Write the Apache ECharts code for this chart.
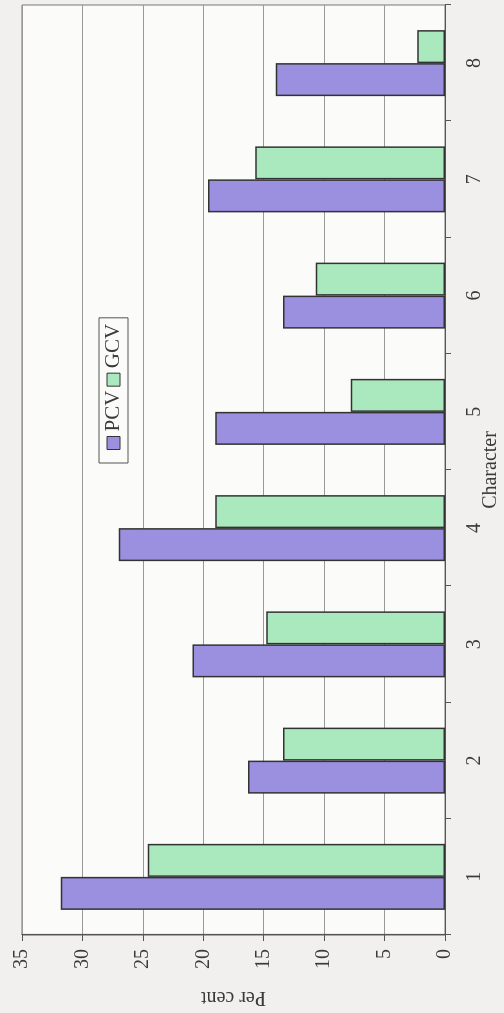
<!DOCTYPE html>
<html>
<head>
<meta charset="utf-8">
<script src="https://cdn.jsdelivr.net/npm/echarts@6/dist/echarts.min.js"></script>
<style>
  html, body { margin: 0; padding: 0; background: #f1f0ee; overflow: hidden; }
  #page { position: relative; width: 504px; height: 1013px; }
  /* chart drawn landscape, then turned a quarter turn anticlockwise like the scan */
  #chart {
    position: absolute; left: 0; top: 0;
    width: 1013px; height: 504px;
    transform-origin: 0 0;
    transform: translate(0, 1013px) rotate(-90deg);
  }
</style>
</head>
<body>
<div id="page"><div id="chart"></div></div>
<script>
const characters = ["1", "2", "3", "4", "5", "6", "7", "8"]
const pcv = [31.8, 16.3, 20.9, 27.0, 19.0, 13.4, 19.6, 14.0]
const gcv = [24.6, 13.4, 14.8, 19.0, 7.8, 10.7, 15.7, 2.3]
const valueTicks = { min: 0, max: 35, interval: 5 }

const font = "Liberation Serif"
const ink = "#3a3a3a"

const chart = echarts.init(document.getElementById("chart"))

chart.setOption({
  backgroundColor: "#f1f0ee",
  animation: false,
  textStyle: { fontFamily: font, color: ink },
  grid: {
    left: 78, right: 5, top: 22, bottom: 59,
    outerBoundsMode: "none",
    show: true,
    backgroundColor: "#fbfbfa",
    borderColor: "#777",
    borderWidth: 1
  },
  legend: {
    data: ["PCV", "GCV"],
    left: 550, top: 99,
    orient: "horizontal",
    icon: "rect",
    itemWidth: 13, itemHeight: 13,
    itemGap: 4,
    padding: [4, 6, 4, 13],
    borderColor: "#555", borderWidth: 1,
    backgroundColor: "#fbfbfa",
    itemStyle: { borderColor: "#333", borderWidth: 1 },
    textStyle: { fontFamily: font, fontSize: 21, color: ink }
  },
  xAxis: {
    type: "category",
    data: characters,
    name: "Character",
    nameLocation: "middle",
    nameGap: 36,
    nameMoveOverlap: false,
    nameTextStyle: { fontFamily: font, fontSize: 20, color: ink },
    axisLine: { lineStyle: { color: "#555", width: 1.2 } },
    axisTick: { show: true, alignWithLabel: false, length: 6, lineStyle: { color: "#555" } },
    axisLabel: { fontFamily: font, fontSize: 20, color: ink, margin: 20 },
    splitLine: { show: false }
  },
  yAxis: {
    type: "value",
    min: valueTicks.min,
    max: valueTicks.max,
    interval: valueTicks.interval,
    name: "Per cent",
    nameLocation: "middle",
    nameGap: 52,
    nameMoveOverlap: false,
    nameTextStyle: { fontFamily: font, fontSize: 20, color: ink },
    axisLine: { show: true, lineStyle: { color: "#555", width: 1.2 } },
    axisTick: { show: true, length: 6, lineStyle: { color: "#555" } },
    axisLabel: { fontFamily: font, fontSize: 20, color: ink, margin: 14 },
    splitLine: { show: true, lineStyle: { color: "#999", width: 1 } }
  },
  series: [
    {
      name: "PCV",
      type: "bar",
      data: pcv,
      barWidth: 33,
      barGap: "0%",
      itemStyle: { color: "#9b8fe0", borderColor: "#333", borderWidth: 1.5 }
    },
    {
      name: "GCV",
      type: "bar",
      data: gcv,
      barWidth: 33,
      barGap: "0%",
      itemStyle: { color: "#aae8bd", borderColor: "#333", borderWidth: 1.5 }
    }
  ]
})
</script>
</body>
</html>
